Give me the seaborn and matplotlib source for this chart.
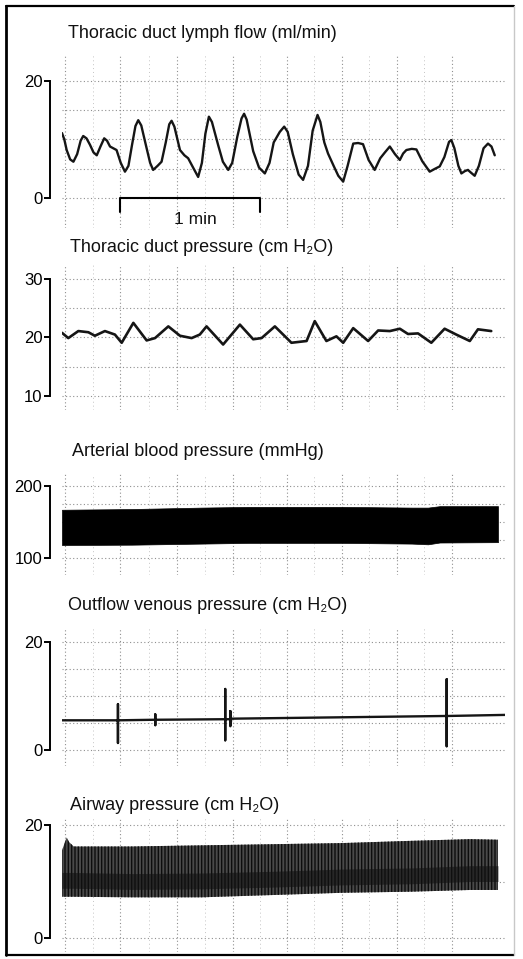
import numpy as np
import pandas as pd
import matplotlib
matplotlib.use("Agg")
import matplotlib.pyplot as plt
from matplotlib.lines import Line2D
import seaborn as sns

# ---------------- data ----------------
# Thoracic duct lymph flow (ml/min) vs time (s)
lymph_t = [0, 1, 2, 3.5, 4.9, 6.5, 8, 9.1, 10.5, 12, 13.5, 14.9, 16.5, 18.1, 19.3, 20.6, 22, 23.4,
           25.2, 27, 28.5, 30, 31.5, 32.7, 34, 36, 37.8, 39.1, 41, 42.7, 44.5, 46, 47, 48.2,
           50.6, 52.5, 54.1, 56.5, 58.4, 60, 61.5, 63, 64.3, 67, 69, 71.3, 73, 75.2, 77, 78.1,
           79.2, 82, 84.5, 87, 89, 90.8, 93.4, 95.3, 96.8, 99, 101.5, 103.4, 105.5, 107.5,
           109.6, 110.8, 112.5, 114.1, 116.5, 118.5, 120.6, 122.5, 124.9, 127, 129.1, 131.5,
           134.1, 136.5, 138.5, 140.6, 142.8, 144.9, 146.3, 147.7, 150, 152, 154.5, 157.7, 160,
           162, 164, 166, 167, 168.3, 170, 171.3, 172.8, 174.1, 175.5, 177, 178.8, 180.8,
           182.7, 184.2, 185.6]
lymph_v = [11.1, 10.0, 8.2, 6.6, 6.2, 7.5, 9.8, 10.6, 10.2, 9.1, 7.8, 7.3, 8.8, 10.2, 9.8, 8.8, 8.5, 8.2,
           6.0, 4.5, 5.5, 9.0, 12.3, 13.3, 12.4, 9.0, 6.0, 4.8, 5.5, 6.2, 9.5, 12.6, 13.2, 12.2,
           8.2, 7.3, 6.8, 5.0, 3.6, 6.0, 11.0, 13.9, 13.0, 9.0, 6.2, 4.8, 6.0, 10.5, 13.6, 14.4,
           13.4, 8.0, 5.2, 4.2, 6.0, 9.5, 11.3, 12.2, 11.3, 7.5, 4.0, 3.1, 5.5, 11.5,
           14.2, 13.0, 9.5, 7.6, 5.5, 3.8, 2.8, 5.5, 9.3, 9.4, 9.2, 6.5,
           4.8, 6.8, 7.8, 8.8, 7.5, 6.5, 7.6, 8.2, 8.4, 8.3, 6.3, 4.5, 5.0,
           5.4, 7.0, 9.6, 9.9, 8.5, 5.5, 4.2, 4.6, 4.8, 4.3, 3.8, 5.5, 8.5,
           9.3, 8.8, 7.3]

# Thoracic duct pressure (cm H2O)
tdp_t = [0, 2.7, 7, 11.3, 14.1, 18.4, 22.7, 25.6, 30.6, 36.3, 39.9, 45.6, 50.6, 55.6, 59.1, 62,
         69.1, 76.3, 82, 85.6, 91.3, 98.4, 104.9, 108.4, 113.4, 117.7, 120.6, 124.9, 131.3,
         135.6, 140.6, 144.9, 148.4, 152.7, 158.4, 164.1, 169.1, 174.9, 178.4, 184.1]
tdp_v = [20.8, 19.9, 21.1, 20.9, 20.3, 21.1, 20.5, 19.1, 22.5, 19.5, 19.9, 21.9, 20.3, 19.9, 20.5, 21.9,
         18.8, 22.2, 19.7, 19.9, 21.9, 19.1, 19.4, 22.8, 19.4, 20.2, 19.1, 21.6, 19.4,
         21.2, 21.1, 21.5, 20.6, 20.7, 19.1, 21.5, 20.5, 19.4, 21.4, 21.1]

# Arterial blood pressure (mmHg): systolic / diastolic envelope
art_t = [0, 30, 60, 80, 100, 120, 150, 157, 162, 187]
art_sys = [167, 168, 170, 171, 171, 171, 170, 170, 172, 172]
art_dia = [118, 118.5, 120, 121, 121, 121, 120, 119, 121.5, 122]

# Outflow venous pressure (cm H2O)
ven_t = [0, 23.6, 24, 24, 24, 24, 24.4, 39.6, 40, 40, 40, 40, 40.4, 69.6, 70, 70, 70, 70, 70.4,
         71.8, 72.2, 72.2, 72.2, 72.6, 164.6, 165, 165, 165, 165, 165.4, 190]
ven_v = [5.5, 5.5, 5.5, 8.5, 1.3, 5.5, 5.5, 5.6, 5.6, 6.6, 4.6, 5.6, 5.6, 5.7, 5.7, 11.3, 1.8, 5.7, 5.7,
         5.7, 5.7, 7.2, 4.4, 5.8, 6.3, 6.3, 13.1, 0.7, 6.3, 6.3, 6.5]

# Airway pressure (cm H2O): peak / trough envelope and mean level
air_t = [0, 2, 3, 5, 30, 60, 90, 120, 150, 175, 187]
air_hi = [15.5, 17.8, 17.0, 16.2, 16.2, 16.4, 16.6, 16.8, 17.2, 17.5, 17.4]
air_lo = [7.3, 7.3, 7.3, 7.3, 7.2, 7.2, 7.6, 8.0, 8.2, 8.5, 8.5]
air_mid = [10.2, 10.2, 10.2, 10.2, 10.0, 10.1, 10.4, 10.8, 11.0, 11.4, 11.4]

titles = ["Thoracic duct lymph flow (ml/min)",
          "Thoracic duct pressure (cm H\u2082O)",
          "Arterial blood pressure (mmHg)",
          "Outflow venous pressure (cm H\u2082O)",
          "Airway pressure (cm H\u2082O)"]
yticks = [[0, 20], [10, 20, 30], [100, 200], [0, 20], [0, 20]]
grid_levels = [[0, 5, 10, 15, 20], [10, 15, 20, 25, 30], [100, 125, 150, 175, 200],
               [0, 5, 10, 15, 20], [0, 10, 20]]
grid_t = [1.3, 24.9, 49.3, 73.3, 96.4, 120, 143.6, 167.1]
scale_bar = (25, 85)   # one minute

# ---------------- style ----------------
sns.set_style("white")
plt.rcParams['font.family'] = ['Liberation Sans', 'DejaVu Sans']
plt.rcParams['hatch.linewidth'] = 1.0

W, H = 523, 959
fig = plt.figure(figsize=(W / 100, H / 100), dpi=100)
fig.patch.set_facecolor('white')

X0, X1 = 62, 505          # px extent of the time axis
T0, T1 = 0, 190           # seconds

# (axes top px, axes bottom px, value hi, px of hi, value lo, px of lo, title y px, title x px)
layout = [
    (55, 228, 20, 81, 0, 198, 33, 68),
    (265, 410, 30, 279, 10, 396, 247, 70),
    (474, 575, 200, 486, 100, 558, 452, 72),
    (628, 766, 20, 642, 0, 750, 606, 68),
    (818, 952, 20, 825, 0, 938, 806, 70),
]

axes = []
for i, (ytp, ybp, vhi, yhi, vlo, ylo, tty, ttx) in enumerate(layout):
    sc = (ylo - yhi) / (vhi - vlo)
    top = vhi + (yhi - ytp) / sc
    bot = vlo - (ybp - ylo) / sc
    ax = fig.add_axes([X0 / W, 1 - ybp / H, (X1 - X0) / W, (ybp - ytp) / H])
    ax.set_xlim(T0, T1)
    ax.set_ylim(bot, top)
    ax.patch.set_alpha(0)
    for s in ['top', 'right', 'bottom']:
        ax.spines[s].set_visible(False)
    sp = ax.spines['left']
    sp.set_position(('outward', 12 * 0.72))
    sp.set_bounds(min(yticks[i]), max(yticks[i]))
    sp.set_linewidth(1.4)
    sp.set_color('black')
    ax.set_yticks(yticks[i])
    ax.set_yticklabels([str(v) for v in yticks[i]], fontsize=12)
    ax.set_yticks(grid_levels[i], minor=True)
    ax.set_xticks([])
    ax.set_xticks(grid_t, minor=True)
    ax.tick_params(axis='y', which='major', direction='out', length=4.5, width=1.4,
                   pad=1, colors='black', left=True)
    ax.tick_params(which='minor', length=0)
    ax.grid(which='both', axis='both', color='#8f8f8f', linestyle=(0, (1, 2.2)),
            linewidth=0.8)
    ax.set_axisbelow(True)
    fig.text(ttx / W, 1 - tty / H, titles[i], ha='left', va='center', fontsize=13,
             color='#111111')
    axes.append(ax)

# lighter fine grid between major lines (chart paper)
for ax in axes:
    for k in range(len(grid_t) - 1):
        ax.axvline((grid_t[k] + grid_t[k + 1]) / 2, color='#c4c4c4',
                   linestyle=(0, (1, 3)), linewidth=0.7, zorder=0)

# Panel 1: lymph flow
df1 = pd.DataFrame({'t': lymph_t, 'v': lymph_v})
sns.lineplot(data=df1, x='t', y='v', ax=axes[0], color='#151515', linewidth=1.7,
             estimator=None, sort=False)
a = axes[0]
a.plot([scale_bar[0], scale_bar[1]], [0, 0], color='black', lw=1.5, solid_capstyle='butt')
a.plot([scale_bar[0], scale_bar[0]], [0, -2.4], color='black', lw=1.5)
a.plot([scale_bar[1], scale_bar[1]], [0, -2.4], color='black', lw=1.5)
a.text(57, -3.7, "1 min", ha='center', va='center', fontsize=12.5, color='#111111')

# Panel 2: thoracic duct pressure
df2 = pd.DataFrame({'t': tdp_t, 'v': tdp_v})
sns.lineplot(data=df2, x='t', y='v', ax=axes[1], color='#151515', linewidth=1.9,
             estimator=None, sort=False)

# Panel 3: arterial pressure band
axes[2].fill_between(art_t, art_dia, art_sys, color='black', linewidth=0.5, zorder=3)

# Panel 4: outflow venous pressure
df4 = pd.DataFrame({'t': ven_t, 'v': ven_v})
sns.lineplot(data=df4, x='t', y='v', ax=axes[3], color='#151515', linewidth=1.7,
             estimator=None, sort=False)

# Panel 5: airway pressure band
a5 = axes[4]
a5.fill_between(air_t, air_lo, air_hi, facecolor='#4a4a4a', edgecolor='#0d0d0d',
                hatch='|||||', linewidth=0, zorder=3)
a5.fill_between(air_t, [m - 1.4 for m in air_mid], [m + 1.4 for m in air_mid],
                color='#111111', alpha=0.6, linewidth=0, zorder=4)

for ax in axes:
    ax.set_xlabel('')
    ax.set_ylabel('')

# frame around the figure
fx0, fx1, fy0, fy1 = 5.5 / W, 514 / W, 1 - 955 / H, 1 - 5.5 / H
fig.add_artist(Line2D([fx0, fx0], [fy0, fy1], color='black', lw=2.0))
fig.add_artist(Line2D([fx0, fx1], [fy1, fy1], color='black', lw=1.6))
fig.add_artist(Line2D([fx0, fx1], [fy0, fy0], color='black', lw=1.6))
fig.add_artist(Line2D([fx1, fx1], [fy0, fy1], color='#c8c8c8', lw=1.0))

fig.savefig('out.png', dpi=100, facecolor='white')
